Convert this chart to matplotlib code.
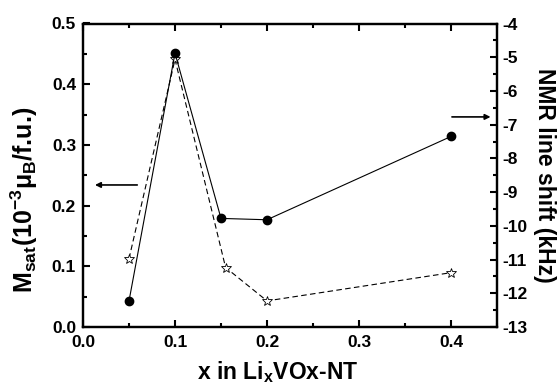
import matplotlib
matplotlib.use("Agg")
import matplotlib.pyplot as plt
from matplotlib.ticker import MultipleLocator, FormatStrFormatter

plt.rcParams['font.family'] = ['Liberation Sans', 'DejaVu Sans']
plt.rcParams['font.weight'] = 'bold'
plt.rcParams['mathtext.fontset'] = 'custom'
plt.rcParams['mathtext.rm'] = 'Liberation Sans:bold'
plt.rcParams['mathtext.it'] = 'Liberation Sans:bold'
plt.rcParams['mathtext.bf'] = 'Liberation Sans:bold'

# NMR line shift (right axis), filled circles
x_nmr = [0.05, 0.1, 0.15, 0.2, 0.4]
nmr_shift = [-12.23, -4.88, -9.78, -9.82, -7.35]

# Msat (left axis), open stars
x_msat = [0.05, 0.1, 0.155, 0.2, 0.4]
msat = [0.1125, 0.441, 0.098, 0.043, 0.0895]

fig = plt.figure(figsize=(5.6, 3.87), dpi=100)
ax = fig.add_axes([83/560, 1-327/387, (497-83)/560, (327-23.5)/387])
ax2 = ax.twinx()

ax.plot(x_msat, msat, linestyle=(0, (5, 3)), color='black', lw=0.8,
        marker='*', markersize=7.5, markerfacecolor='white',
        markeredgecolor='black', markeredgewidth=0.6, zorder=3)
ax2.plot(x_nmr, nmr_shift, linestyle='-', color='black', lw=0.8,
         marker='o', markersize=6, markerfacecolor='black',
         markeredgecolor='black', zorder=3)

ax.set_xlim(0, 0.45)
ax.set_ylim(0, 0.5)
ax2.set_ylim(-13, -4)

ax.xaxis.set_major_locator(MultipleLocator(0.1))
ax.xaxis.set_minor_locator(MultipleLocator(0.05))
ax.yaxis.set_major_locator(MultipleLocator(0.1))
ax.yaxis.set_minor_locator(MultipleLocator(0.05))
ax2.yaxis.set_major_locator(MultipleLocator(1))
ax2.yaxis.set_minor_locator(MultipleLocator(0.5))

ax.tick_params(axis='x', which='both', direction='in', top=True, width=1.5, pad=6)
ax.tick_params(axis='y', which='both', direction='in', left=True, right=False, width=1.5, pad=5)
ax.tick_params(which='major', length=5, labelsize=12.5)
ax.tick_params(which='minor', length=3)
ax2.tick_params(axis='y', which='both', direction='in', width=1.5)
ax2.tick_params(which='major', length=5, labelsize=12.5, pad=4)
ax2.tick_params(which='minor', length=3)

ax.xaxis.set_major_formatter(FormatStrFormatter('%.1f'))
ax.yaxis.set_major_formatter(FormatStrFormatter('%.1f'))
ax2.yaxis.set_major_formatter(FormatStrFormatter('%d'))

for a in (ax, ax2):
    for s in a.spines.values():
        s.set_linewidth(1.6)
    for lab in a.get_xticklabels() + a.get_yticklabels():
        lab.set_fontweight('bold')

ax.set_xlabel(r'x in Li$_{\mathrm{x}}$VOx-NT', fontsize=16.5, fontweight='bold')
ax.xaxis.set_label_coords(0.47, -0.105)
ax.set_ylabel(r'M$_{\mathrm{sat}}$(10$^{-3}$$\mu_{\mathrm{B}}$/f.u.)', fontsize=18,
              fontweight='bold')
ax.yaxis.set_label_coords(-0.105, 0.42)
ax2.set_ylabel('NMR line shift (kHz)', fontsize=16.5, fontweight='bold',
               rotation=270, va='bottom')
ax2.yaxis.set_label_coords(1.087, 0.5)

# arrows indicating axes
ax.annotate('', xy=(0.01, 0.234), xytext=(0.062, 0.234),
            arrowprops=dict(arrowstyle='-|>', color='black', lw=1.2, mutation_scale=8))
ax2.annotate('', xy=(0.446, -6.77), xytext=(0.398, -6.77),
             arrowprops=dict(arrowstyle='-|>', color='black', lw=1.2, mutation_scale=8))

fig.savefig('out.png', dpi=100)
